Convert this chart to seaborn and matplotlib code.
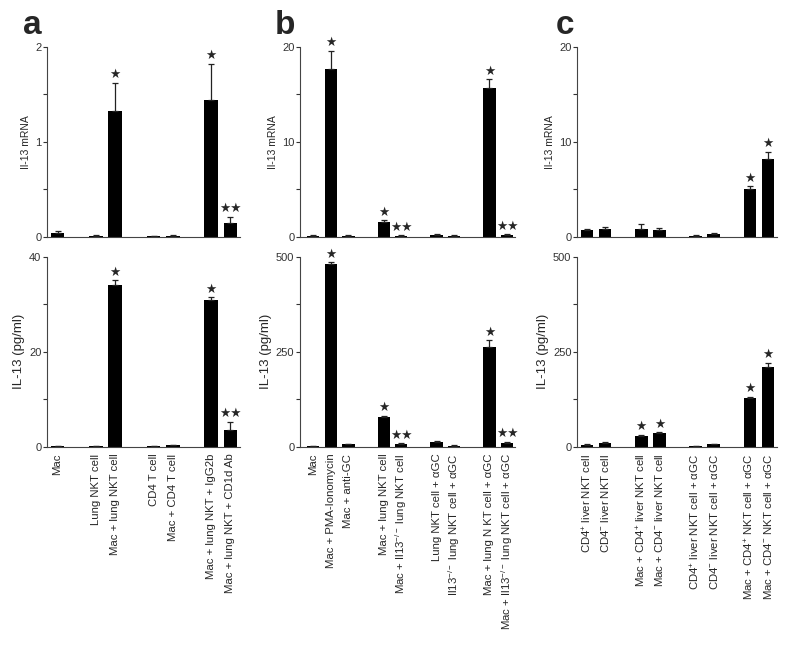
import matplotlib
matplotlib.use("Agg")
import matplotlib.pyplot as plt
import numpy as np
import seaborn as sns

# ---- panel a ----
a_labels = ["Mac", "Lung NKT cell", "Mac + lung NKT cell", "CD4 T cell",
            "Mac + CD4 T cell", "Mac + lung NKT + IgG2b", "Mac + lung NKT + CD1d Ab"]
a_groups = [1, 2, 2, 2]
a_mrna = [0.035, 0.012, 1.32, 0.006, 0.012, 1.44, 0.147]
a_mrna_err = [0.025, 0.005, 0.30, 0.003, 0.005, 0.38, 0.065]
a_pg = [0.1, 0.1, 34.0, 0.1, 0.3, 30.9, 3.5]
a_pg_err = [0.05, 0.05, 1.0, 0.05, 0.1, 0.6, 1.8]
a_stars = ["", "", "★", "", "", "★", "★★"]

# ---- panel b ----
b_labels = ["Mac", "Mac + PMA-Ionomycin", "Mac + anti-GC", "Mac + lung NKT cell",
            "Mac + Il13$^{-/-}$ lung NKT cell", "Lung NKT cell + αGC",
            "Il13$^{-/-}$ lung NKT cell + αGC", "Mac + lung N KT cell + αGC",
            "Mac + Il13$^{-/-}$ lung NKT cell + αGC"]
b_groups = [3, 2, 2, 2]
b_mrna = [0.1, 17.7, 0.1, 1.55, 0.1, 0.2, 0.1, 15.7, 0.2]
b_mrna_err = [0.05, 1.9, 0.05, 0.2, 0.05, 0.05, 0.05, 0.9, 0.05]
b_pg = [2, 480, 7, 79, 7, 13, 3, 263, 10]
b_pg_err = [1, 5, 1, 3, 3, 2, 1, 18, 3]
b_stars = ["", "★", "", "★", "★★", "", "", "★", "★★"]

# ---- panel c ----
c_labels = ["CD4$^{+}$ liver NKT cell", "CD4$^{-}$ liver NKT cell",
            "Mac + CD4$^{+}$ liver NKT cell", "Mac + CD4$^{-}$ liver NKT cell",
            "CD4$^{+}$ liver NKT cell + αGC", "CD4$^{-}$ liver NKT cell + αGC",
            "Mac + CD4$^{+}$ NKT cell + αGC", "Mac + CD4$^{-}$ NKT cell + αGC"]
c_groups = [2, 2, 2, 2]
c_mrna = [0.7, 0.8, 0.85, 0.7, 0.1, 0.28, 5.0, 8.2]
c_mrna_err = [0.12, 0.25, 0.45, 0.2, 0.03, 0.12, 0.3, 0.75]
c_mrna_stars = ["", "", "", "", "", "", "★", "★"]
c_pg = [5, 11, 28, 36, 1, 7, 129, 209]
c_pg_err = [1, 1, 3.5, 2, 0.5, 1, 3, 12]
c_pg_stars = ["", "", "★", "★", "", "", "★", "★"]

sns.set_style("ticks")
plt.rcParams["font.family"] = ["Liberation Sans", "DejaVu Sans"]
plt.rcParams["mathtext.fontset"] = "custom"
plt.rcParams["mathtext.rm"] = "Liberation Sans"
plt.rcParams["mathtext.default"] = "regular"


def slots_from_groups(groups):
    # one empty slot between groups
    pos = []
    start = 0
    for g in groups:
        pos.extend(range(start, start + g))
        start += g + 1
    return np.array(pos)


def draw_panel(ax, slots, values, errs, stars, ymax, ylabel, ylabel_size, xlim,
               labels=None):
    sns.barplot(x=slots, y=values, native_scale=True, color="black",
                width=0.7, errorbar=None, ax=ax, saturation=1,
                edgecolor="black", linewidth=0)
    ax.errorbar(slots, values, yerr=[np.zeros(len(values)), errs], fmt="none",
                ecolor="#222222", elinewidth=0.9, capsize=2.5, capthick=0.9)
    for x, v, e, s in zip(slots, values, errs, stars):
        if s:
            ax.annotate(s, (x, v + e), xytext=(0, 1), textcoords="offset points",
                        ha="center", va="bottom", fontsize=9,
                        family=["DejaVu Sans"])
    ax.set_ylim(0, ymax)
    ax.set_xlim(*xlim)
    ticks = np.linspace(0, ymax, 5)
    ax.set_yticks(ticks)
    ax.set_yticklabels([f"{t:g}" if i % 2 == 0 else "" for i, t in enumerate(ticks)])
    ax.set_ylabel(ylabel, fontsize=ylabel_size, labelpad=3)
    ax.set_xlabel("")
    ax.set_xticks(slots)
    if labels is None:
        ax.set_xticklabels([])
    else:
        ax.set_xticklabels(labels, rotation=90, fontsize=8.2, va="top")
    ax.tick_params(axis="x", length=0, pad=5)
    ax.tick_params(axis="y", length=3, width=0.8, labelsize=8, pad=1,
                   colors="#333333")
    sns.despine(ax=ax)
    for sp in ("left", "bottom"):
        ax.spines[sp].set_linewidth(0.8)
        ax.spines[sp].set_color("#444444")


fig = plt.figure(figsize=(7.89, 6.46), dpi=100)

H = 0.2941
lefts = [0.0596, 0.3802, 0.7313]
widths = [0.2446, 0.2725, 0.2535]
top_b = 0.6336
bot_b = 0.3085

panels = [
    (a_groups, a_mrna, a_mrna_err, a_stars, 2, a_pg, a_pg_err, a_stars, 40,
     a_labels, (-0.55, 9.5)),
    (b_groups, b_mrna, b_mrna_err, b_stars, 20, b_pg, b_pg_err, b_stars, 500,
     b_labels, (-0.75, 11.45)),
    (c_groups, c_mrna, c_mrna_err, c_mrna_stars, 20, c_pg, c_pg_err, c_pg_stars, 500,
     c_labels, (-0.55, 10.5)),
]

for i, (grp, m, me, ms, mmax, p, pe, ps, pmax, labs, xl) in enumerate(panels):
    slots = slots_from_groups(grp)
    ax_top = fig.add_axes([lefts[i], top_b, widths[i], H])
    ax_bot = fig.add_axes([lefts[i], bot_b, widths[i], H])
    draw_panel(ax_top, slots, m, me, ms, mmax, "Il-13 mRNA", 7.5, xl)
    draw_panel(ax_bot, slots, p, pe, ps, pmax, "IL-13 (pg/ml)", 9.5, xl, labels=labs)

for letter, x in zip(["a", "b", "c"], [23, 275, 556]):
    fig.text(x / 789, 1 - 34 / 646, letter, fontsize=24, fontweight="bold",
             ha="left", va="baseline")

fig.savefig("out.png", dpi=100)
